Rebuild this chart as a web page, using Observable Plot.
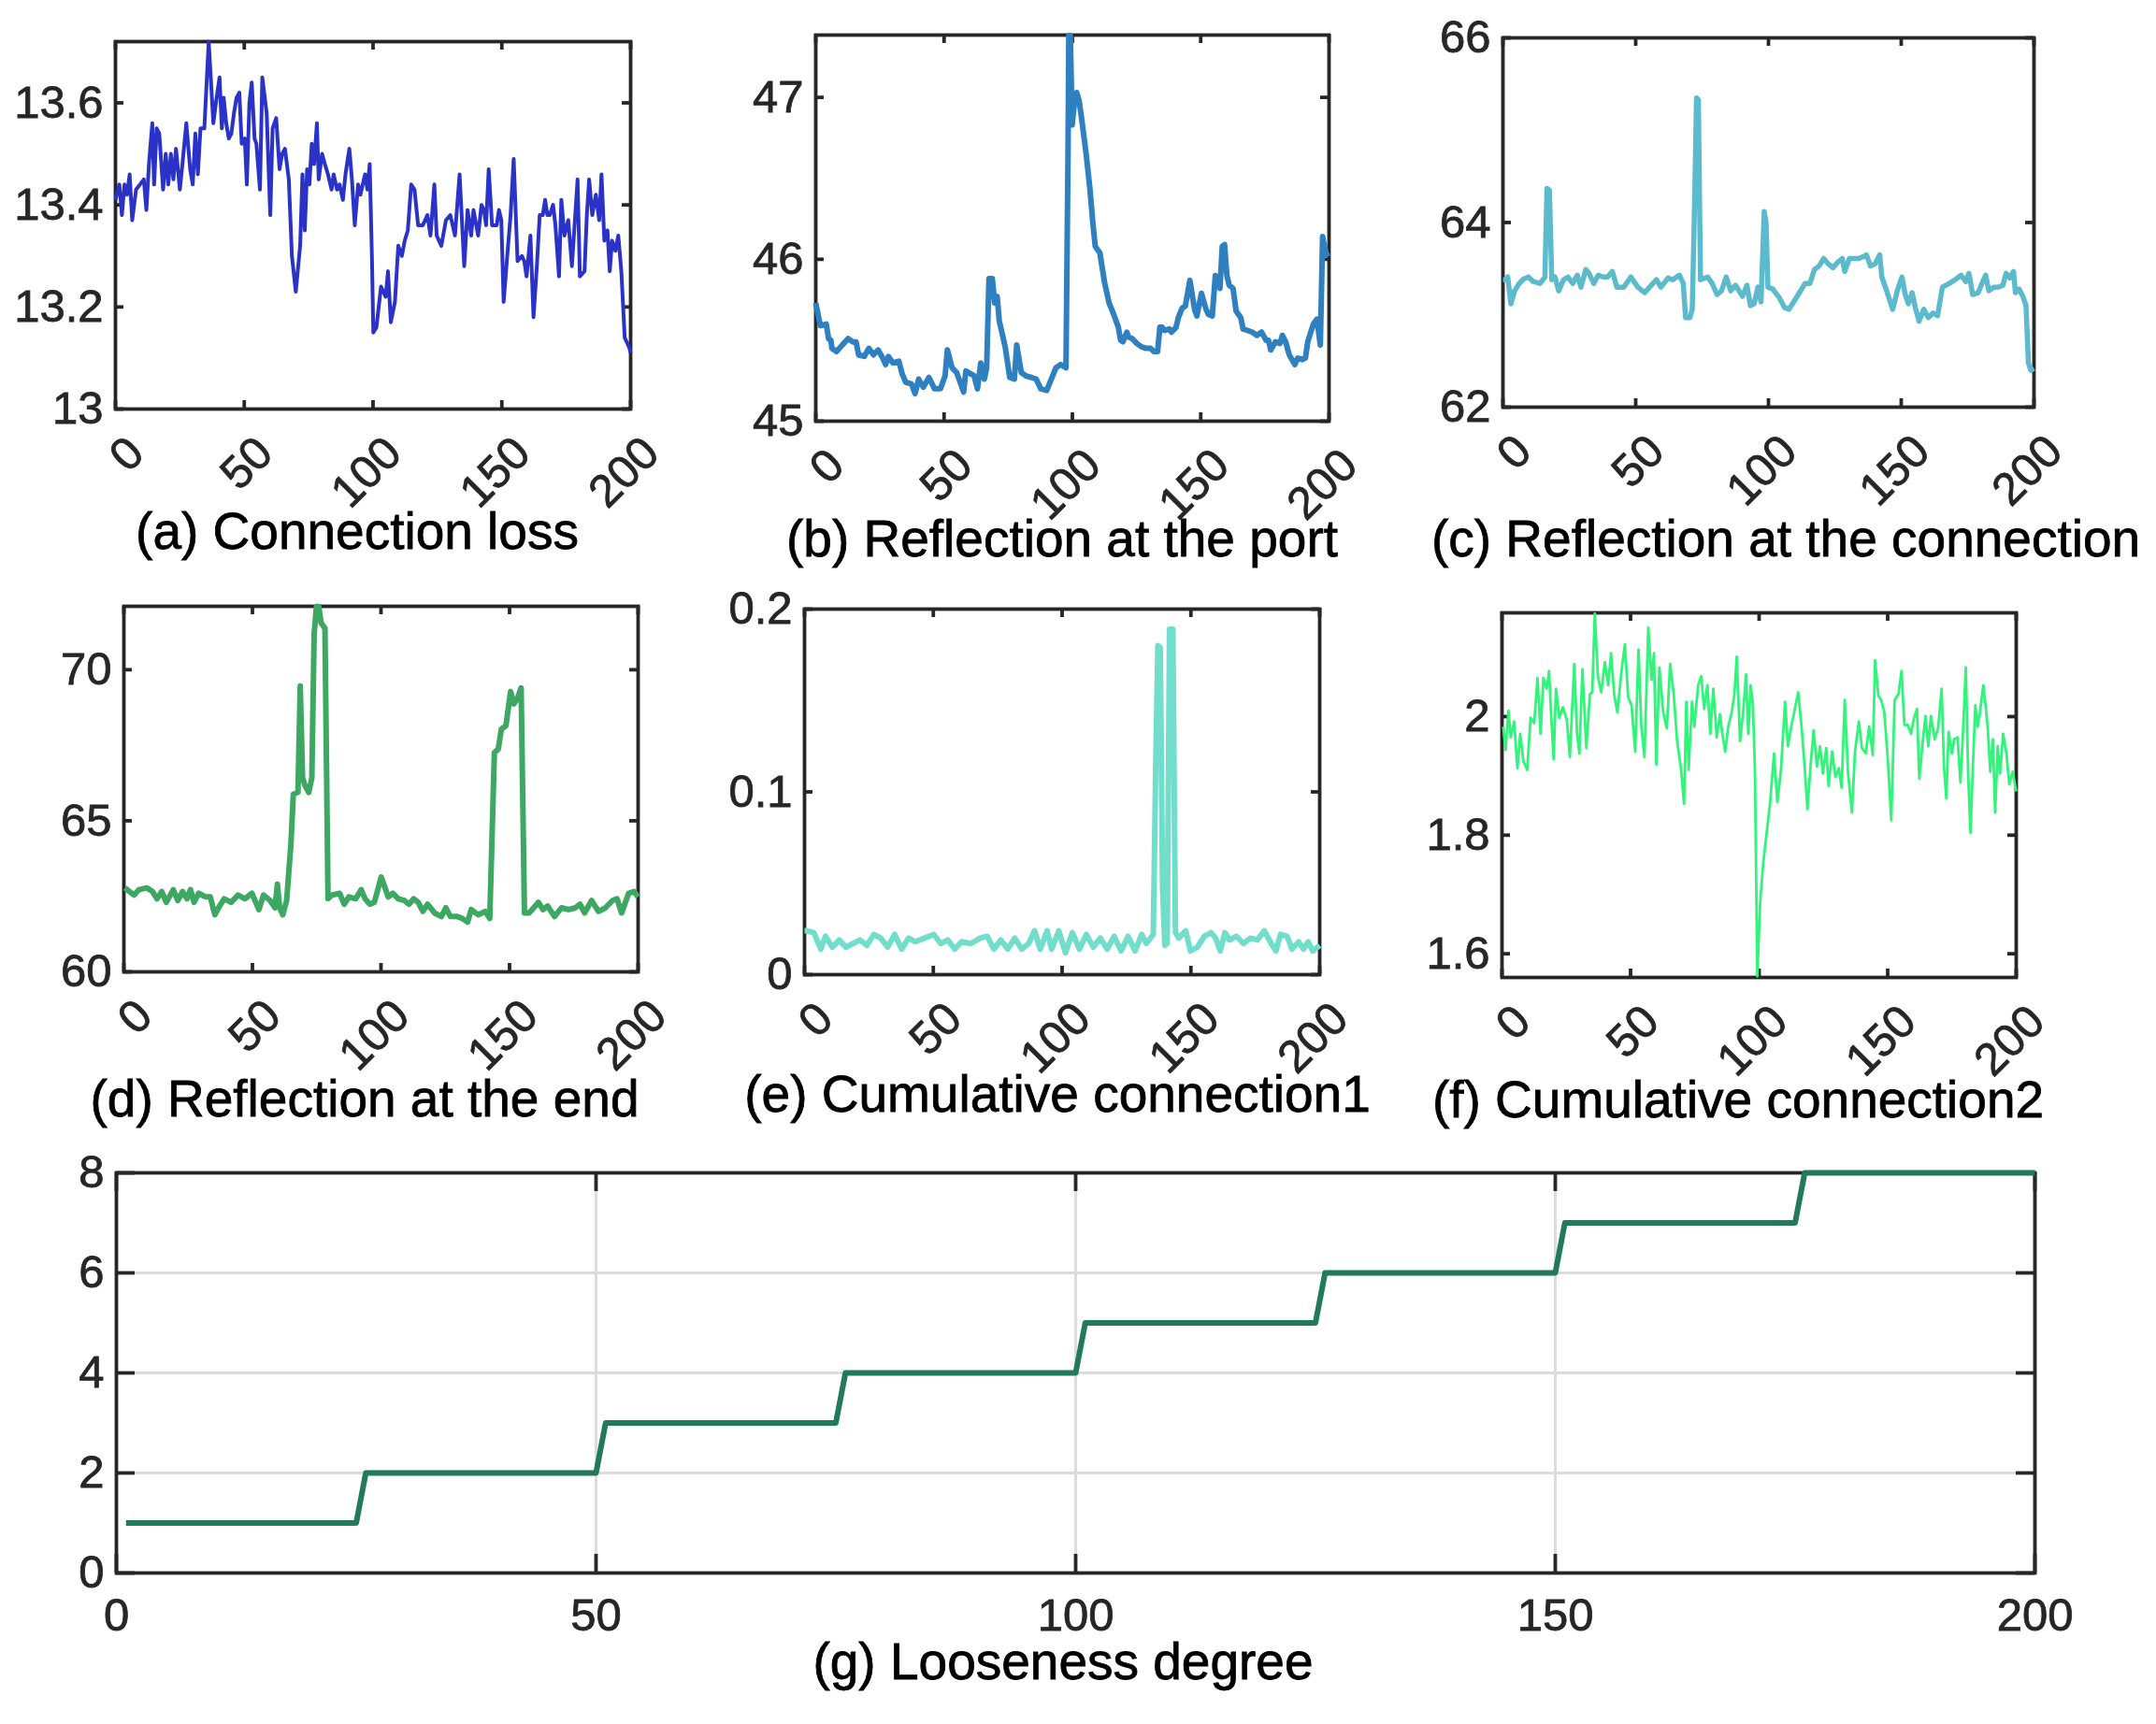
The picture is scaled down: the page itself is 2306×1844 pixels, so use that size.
<!DOCTYPE html>
<html><head><meta charset="utf-8">
<script src="https://cdn.jsdelivr.net/npm/d3@7"></script>
<script src="https://cdn.jsdelivr.net/npm/@observablehq/plot@0.6"></script>
<style>
body{margin:0;background:#fff;}
#root{position:relative;width:2306px;height:1844px;overflow:hidden;background:#fff;font-family:"Liberation Sans",Arial,sans-serif;}
.cap{position:absolute;display:inline-block;transform:translateX(-50%);font-size:55px;line-height:55px;color:#000;white-space:nowrap;font-family:"Liberation Sans",Arial,sans-serif;-webkit-text-stroke:0.8px #000;}
#root svg text{stroke:#262626;stroke-width:0.8px;}
</style></head><body><div id="root"></div>
<script>
// ---- data ----
const xTicks = [0, 50, 100, 150, 200];

const lossX = [0,1.5,2.5,3.5,4.5,5.5,6.5,8,9.5,11,12,13,14.3,15,16,17,18.5,19.5,20.5,21.5,22.5,23.5,25,26,27.5,29,30,31,32,33,34.5,36.2,37,38,39,40.4,41.3,42,43,44,45,46,47,48.1,49,50.2,51,52,52.9,54,54.7,56.1,57,58.7,60.1,61,62.4,63.7,64.7,65.8,67.3,68.5,70,71.7,72.6,73.5,74.4,75.3,76.2,77.1,78.2,78.9,80.2,81.3,82.5,83.9,84.7,86,87,88.3,89.3,90.8,91.8,92.9,94.2,95.1,96.9,97.8,98.7,99.6,100.1,101.3,103.1,104.9,105.8,106.9,108.5,109.8,111.2,112.3,113.5,114.8,116.1,117.5,119.3,121.1,122.3,123.8,124.7,126.5,128.3,130,131.8,133.6,135.4,136.7,138.1,139,140.8,142.1,143.1,143.9,144.9,146.2,148,148.9,149.8,150.7,152.1,153.4,154.6,156.1,157.8,158.7,159.6,161.1,162.3,163.6,164.7,165.9,166.8,167.7,168.6,169.9,170.8,172.2,173.1,174.3,175.8,177.2,178.5,179.4,180.3,182.1,183,183.9,185.1,186.5,187.8,188.7,189.8,191,191.9,192.8,194.1,195.2,196.4,197.7,199.5,200];
const lossY = [13.41,13.44,13.38,13.44,13.42,13.46,13.37,13.43,13.44,13.45,13.39,13.48,13.56,13.44,13.55,13.54,13.43,13.50,13.44,13.50,13.45,13.51,13.43,13.48,13.56,13.47,13.44,13.54,13.46,13.55,13.55,13.72,13.65,13.56,13.60,13.65,13.55,13.61,13.56,13.53,13.54,13.58,13.61,13.62,13.52,13.53,13.44,13.60,13.64,13.53,13.52,13.43,13.65,13.58,13.38,13.55,13.57,13.47,13.50,13.51,13.45,13.30,13.23,13.32,13.46,13.35,13.47,13.44,13.52,13.48,13.56,13.45,13.50,13.48,13.46,13.43,13.46,13.43,13.44,13.41,13.46,13.51,13.45,13.36,13.44,13.42,13.46,13.43,13.48,13.29,13.15,13.16,13.24,13.22,13.27,13.17,13.21,13.32,13.30,13.33,13.35,13.44,13.43,13.36,13.36,13.38,13.34,13.44,13.34,13.32,13.37,13.38,13.34,13.46,13.28,13.39,13.34,13.39,13.34,13.40,13.39,13.36,13.47,13.36,13.36,13.39,13.37,13.21,13.30,13.38,13.49,13.29,13.30,13.29,13.26,13.34,13.18,13.28,13.38,13.38,13.41,13.38,13.38,13.40,13.36,13.26,13.41,13.34,13.37,13.28,13.38,13.45,13.26,13.27,13.38,13.45,13.38,13.42,13.37,13.46,13.33,13.35,13.27,13.33,13.31,13.34,13.27,13.14,13.12,13.11];

const portX = [0,1.8,4.1,5,5.9,6.3,8.1,10.3,12.6,14.4,15.7,16.7,18.9,20.7,22.5,24.3,26.1,27.2,28.3,30.1,32.4,33.7,35.1,37.3,38.7,40.1,41.9,44.1,46.3,48.6,50.4,51.3,53.1,54.9,56.3,57.6,58.5,60.7,61.7,63,64.3,65.7,66.6,67.5,68.8,69.7,70.7,71.5,73.8,75.6,77.4,78.3,80.1,81.9,84.1,85.9,87.7,90,91.8,93.6,95.4,97.5,98.3,98.6,99.2,99.9,100.8,101.7,102.6,103.5,105.3,106.8,108,108.9,110.7,112.5,114.3,116.1,117.9,118.8,119.7,121.2,121.9,123.3,125.1,126.9,128.7,130.5,131.8,133.2,134.1,135,135.9,137.7,138.6,140.4,141.3,142.8,144,145.8,147.6,148.5,150.3,152.1,153,154.5,155.7,156.6,157.5,158.4,159.3,160.2,161.1,162.6,163.8,165.6,166.5,168.3,170.1,171.9,173.7,175.5,176.4,177.3,179.1,180.9,181.8,183.1,184.5,186.7,187.8,189.6,190.8,191.7,193.9,195.3,196.6,197.5,198.9,200];
const portY = [45.73,45.59,45.60,45.51,45.50,45.45,45.43,45.47,45.51,45.49,45.49,45.41,45.40,45.45,45.41,45.44,45.39,45.35,45.40,45.36,45.37,45.29,45.24,45.23,45.17,45.26,45.21,45.27,45.20,45.20,45.28,45.44,45.33,45.30,45.24,45.18,45.31,45.29,45.28,45.20,45.36,45.26,45.33,45.88,45.88,45.73,45.77,45.62,45.46,45.27,45.26,45.47,45.30,45.28,45.27,45.26,45.20,45.19,45.26,45.33,45.35,45.33,46.66,47.38,47.38,46.83,46.97,47.03,46.98,46.88,46.66,46.44,46.22,46.08,46.04,45.86,45.73,45.66,45.58,45.50,45.49,45.55,45.52,45.51,45.48,45.46,45.45,45.45,45.43,45.43,45.58,45.58,45.56,45.57,45.55,45.58,45.64,45.70,45.71,45.87,45.69,45.65,45.79,45.69,45.66,45.65,45.90,45.88,45.82,46.08,46.09,45.90,45.84,45.82,45.68,45.64,45.57,45.56,45.55,45.53,45.55,45.50,45.50,45.44,45.49,45.48,45.53,45.49,45.41,45.35,45.39,45.38,45.39,45.49,45.60,45.63,45.47,46.14,46.03,46.04];

const connX = [0,0.9,1.8,3,4.4,6.1,7.9,9.6,11.4,14,15.8,16.6,17.5,18.4,19.6,21,22.8,24.5,26.3,28,29.4,31.2,32.4,34.2,35.9,37.7,39.4,41.2,42.9,45.5,48.2,50.8,53.4,55.2,57.8,59.5,62.2,63.9,66.5,67.9,68.8,70.4,71.3,72.2,72.9,73.6,74.4,77.1,78.8,80.6,82.3,84.1,85.8,87.6,90.2,91.9,93.2,94.6,96,97.2,98.4,99.1,99.8,101.6,104.2,106,107.7,109.5,112.1,113.8,115.6,117.3,119.1,120.8,122.6,124.3,126.1,127.8,128.7,130.5,132.2,134,135.7,136.9,138.4,140.1,141.9,142.7,144.5,146.8,148.5,150.3,151.5,152.7,154.1,155.3,156.7,158.5,160.2,162,163.7,165.5,168.1,170.8,172.5,174.3,175.5,176.9,179,180.4,181.8,183,184.8,186.5,188.3,189.5,190.9,192.3,193,194.4,195.8,197,197.9,198.8,200];
const connY = [63.38,63.38,63.41,63.12,63.26,63.34,63.39,63.41,63.36,63.34,63.41,64.37,64.35,63.38,63.41,63.26,63.38,63.41,63.34,63.43,63.30,63.49,63.45,63.34,63.43,63.41,63.41,63.47,63.30,63.30,63.41,63.30,63.24,63.30,63.38,63.30,63.40,63.38,63.43,63.34,62.97,62.97,63.06,64.23,65.35,65.33,63.38,63.41,63.34,63.22,63.26,63.41,63.26,63.32,63.20,63.32,63.10,63.12,63.30,63.14,64.12,64.00,63.30,63.28,63.18,63.08,63.06,63.14,63.26,63.34,63.34,63.49,63.53,63.61,63.55,63.51,63.57,63.61,63.47,63.61,63.61,63.61,63.63,63.65,63.53,63.55,63.65,63.41,63.26,63.06,63.26,63.41,63.22,63.12,63.24,63.08,62.93,63.06,62.97,63.02,62.99,63.30,63.34,63.39,63.43,63.36,63.45,63.22,63.24,63.34,63.43,63.26,63.30,63.30,63.32,63.45,63.40,63.47,63.24,63.28,63.20,63.10,62.48,62.40,62.42];

const endX = [0.4,2.2,4,5.8,9,11.1,12.9,14.7,16.5,19.2,21,22.8,24.6,25.9,27.3,29.1,31.8,33.6,35.4,37.2,39,41.7,44.4,47.1,49.8,52.5,54.3,56.9,58.8,59.7,60.6,61.8,63.3,65,65.9,67.7,68.6,69.5,70.4,71.9,73.1,74,74.9,75.8,76.7,78.2,79.4,80.9,83.9,85.7,87.5,90.2,92.3,93.8,95.6,97.4,100.1,102.8,104.6,106.7,109.1,110.9,112.7,114.5,116.3,118.1,120.8,123.5,125.2,127,129.7,131.5,133.7,135.1,137.8,140.5,142.3,144.1,145.6,146.8,148.6,150.4,151.7,153.1,154.5,155.8,157.6,159.4,161.2,163,164.8,167.5,170.2,172.9,175.6,177.4,179.2,181.9,184.6,187.3,190,191.8,193.6,196.3,198.4,200];
const endY = [62.78,62.66,62.54,62.72,62.78,62.66,62.42,62.66,62.30,62.72,62.36,62.66,62.42,62.72,62.30,62.60,62.48,62.48,61.89,62.18,62.42,62.30,62.54,62.42,62.60,62.06,62.54,62.36,62.12,62.90,62.12,61.89,62.36,64.27,65.88,65.94,69.46,66.42,66.18,65.94,66.42,71.19,72.09,72.09,71.55,71.37,62.42,62.54,62.60,62.24,62.48,62.42,62.72,62.42,62.24,62.30,63.14,62.48,62.60,62.42,62.36,62.24,62.42,62.30,62.00,62.24,61.95,61.83,62.12,61.83,61.83,61.77,61.65,62.06,61.89,62.00,61.77,67.26,67.37,68.03,68.15,69.28,68.87,69.05,69.40,61.95,61.95,62.12,62.30,62.06,62.18,61.83,62.12,62.06,62.12,62.24,61.95,62.36,62.00,62.12,62.36,62.42,61.95,62.60,62.66,62.48];

const cum1X = [0,0.9,3.6,6.3,8.1,10.8,13.5,16.1,18.8,21.5,24.2,26.9,29.6,32.3,35,37.7,40.4,43,46.6,50.2,52.9,55.6,58.3,61,64.6,68.2,70.9,73.5,76.2,78.9,81.6,84.3,87,89.3,91.5,94.2,95.9,98.7,101.3,104,106.7,109.4,112.1,114.8,117.5,120.2,122.9,125.6,128.3,130.9,132.7,135.4,136.3,137.2,138.1,139,139.9,140.8,141.7,143,144,145.3,148,149.8,152.5,155.2,157.8,159.6,161.4,163.2,165,167.7,170.4,173.1,175.8,178.5,181.2,183,184.8,187.4,189.2,191.9,193.7,195.5,197.3,200];
const cum1Y = [0.024,0.024,0.023,0.014,0.021,0.015,0.019,0.015,0.017,0.019,0.016,0.022,0.020,0.015,0.022,0.014,0.020,0.018,0.020,0.022,0.017,0.019,0.014,0.018,0.017,0.020,0.021,0.014,0.019,0.014,0.020,0.014,0.017,0.024,0.014,0.024,0.014,0.024,0.012,0.023,0.014,0.022,0.015,0.020,0.014,0.021,0.013,0.021,0.013,0.022,0.017,0.022,0.111,0.180,0.179,0.048,0.016,0.017,0.189,0.189,0.023,0.020,0.024,0.013,0.015,0.021,0.023,0.020,0.013,0.023,0.019,0.021,0.017,0.020,0.019,0.024,0.017,0.013,0.022,0.021,0.014,0.018,0.014,0.018,0.013,0.016];

const cum2X = [0.5,1.4,2.5,3.4,4.7,6,7.1,8.3,9.8,11.1,12.5,13.8,15,16.1,17.4,18.3,19.2,20.1,21,22.3,23.7,25.2,26.4,28.1,29.2,30.1,31.3,32.8,34.2,35.1,36.1,37.3,38.6,40,41.3,42.4,43.7,44.9,46.4,47.8,49.1,50.4,51.8,53.1,54.2,55.4,56.9,58.2,59.1,60,61.2,62.7,64.1,65.4,66.8,68.1,69.6,70.8,71.7,72.6,73.9,74.8,76.3,77.5,78.6,79.9,81,82.2,83.5,84.8,85.7,86.8,88,89.3,90.4,91.3,92.6,93.8,94.9,95.8,96.7,97.6,98.4,99.3,100.4,101.6,103.1,104.3,105.8,107.1,108.5,110.1,111.2,112.5,113.9,115.2,116.5,117.6,118.8,120.1,121.2,122.5,123.7,124.8,126.1,127,128.4,129.7,131,132.1,133.3,134.6,136.1,137.3,138.8,140,141.5,142.8,144.2,145.1,146.4,147.5,148.7,150,151.4,152.7,154.2,155.4,156.5,157.8,159.1,160.1,161.4,162.3,163.6,164.7,165.8,166.8,168.3,169.6,171,171.9,172.8,173.7,175,175.9,177.2,178.3,179.2,180.4,181.3,182.2,183.2,184.1,185,185.9,187.2,188,188.9,189.9,190.9,191.8,192.8,193.7,194.9,196.2,197.3,198.6,199.5,200];
const cum2Y = [1.983,1.944,2.010,1.965,1.992,1.913,1.971,1.925,1.910,1.998,1.989,2.065,1.971,2.065,2.047,2.077,1.995,1.928,2.047,1.998,2.016,1.995,1.932,2.089,1.971,1.938,2.080,1.947,2.038,2.041,2.174,2.068,2.041,2.092,2.053,2.107,2.035,2.007,2.074,2.122,2.032,2.019,1.941,2.113,1.983,1.932,2.150,2.062,2.107,1.919,2.083,2.007,1.980,2.089,2.038,1.959,1.913,1.853,2.025,1.910,2.025,1.983,2.053,2.068,2.013,2.053,1.971,2.047,1.965,2.004,1.971,1.941,1.983,2.007,2.038,2.101,1.959,2.007,2.071,1.971,2.053,2.019,1.904,1.562,1.686,1.753,1.810,1.856,1.938,1.856,1.910,2.025,1.950,1.983,2.013,2.041,1.983,1.922,1.844,1.922,1.977,1.916,1.950,1.904,1.947,1.883,1.941,1.898,1.913,1.880,2.028,1.904,1.838,1.941,1.992,1.947,1.938,1.983,1.935,2.095,2.035,2.028,2.007,1.932,1.825,2.028,2.038,2.077,1.986,1.986,1.971,1.995,2.013,1.895,1.956,2.001,1.950,2.001,1.962,1.980,2.047,1.916,1.862,1.974,1.938,1.962,1.965,1.889,1.965,2.083,1.904,1.804,1.922,2.019,1.983,2.007,2.053,2.022,1.983,1.907,1.962,1.838,1.950,1.904,1.971,1.938,1.886,1.907,1.886,1.874];

const looseX = [1,25,26,50,51,75,76,100,101,125,126,150,151,175,176,200];
const looseY = [1,1,2,2,3,3,4,4,5,5,6,6,7,7,8,8];

const captions = ["(a) Connection loss","(b) Reflection at the port","(c) Reflection at the connection","(d) Reflection at the end","(e) Cumulative connection1","(f) Cumulative connection2","(g) Looseness degree"];

// ---- drawing ----
const root = document.getElementById("root");
const AX = "#262626";
const FONT = "'Liberation Sans', Arial, Helvetica, sans-serif";
const FS = 49;

function panel(p) {
  const mL = 150, mR = 40, mT = 40, mB = 180;
  const fw = p.R - p.L, fh = p.B - p.T;
  const data = p.xs.map((x, i) => ({x, y: p.ys[i]}));
  const tl = p.tickLen;
  const marks = [];
  if (p.grid) {
    marks.push(Plot.gridX(p.xticks.slice(1, -1), {stroke: "#dcdcdc", strokeOpacity: 1, strokeWidth: 3}));
    marks.push(Plot.gridY(p.yticks.slice(1, -1), {stroke: "#dcdcdc", strokeOpacity: 1, strokeWidth: 3}));
  }
  marks.push(Plot.ruleX(p.xticks, {x: d => d, insetTop: fh - tl, stroke: AX, strokeWidth: 3.8}));
  marks.push(Plot.ruleX(p.xticks, {x: d => d, insetBottom: fh - tl, stroke: AX, strokeWidth: 3.8}));
  marks.push(Plot.ruleY(p.yticks, {y: d => d, insetRight: fw - tl, stroke: AX, strokeWidth: 3.8}));
  marks.push(Plot.ruleY(p.yticks, {y: d => d, insetLeft: fw - tl, stroke: AX, strokeWidth: 3.8}));
  marks.push(Plot.frame({stroke: AX, strokeWidth: 3.8}));
  marks.push(Plot.line(data, {x: "x", y: "y", stroke: p.color, strokeWidth: p.lw, strokeLinejoin: "round", strokeLinecap: "butt"}));
  marks.push(Plot.axisY(p.yticks, {anchor: "left", label: null, tickSize: 0, tickPadding: 13, color: AX, fontSize: FS, tickFormat: d => String(d)}));
  if (p.rotate) {
    marks.push(Plot.axisX(p.xticks, {anchor: "bottom", label: null, tickSize: 0, tickPadding: 39, tickRotate: -45, dx: 22,
      textAnchor: "end", lineAnchor: "middle", color: AX, fontSize: FS, tickFormat: d => String(d)}));
  } else {
    marks.push(Plot.axisX(p.xticks, {anchor: "bottom", label: null, tickSize: 0, tickPadding: 27, color: AX, fontSize: FS, tickFormat: d => String(d)}));
  }
  const svg = Plot.plot({
    width: fw + mL + mR, height: fh + mT + mB,
    marginLeft: mL, marginRight: mR, marginTop: mT, marginBottom: mB,
    x: {domain: [0, 200], axis: null, label: null},
    y: {domain: p.ydom, axis: null, label: null},
    style: {background: "transparent", overflow: "visible", fontFamily: FONT, fontSize: FS + "px"},
    marks
  });
  svg.style.position = "absolute";
  svg.style.left = (p.L - mL) + "px";
  svg.style.top = (p.T - mT) + "px";
  svg.style.maxWidth = "none";
  svg.style.background = "transparent";
  svg.style.overflow = "visible";
  root.appendChild(svg);

  const cap = document.createElement("div");
  cap.className = "cap";
  cap.textContent = p.caption;
  cap.style.left = p.cx + "px";
  cap.style.top = (p.base - 46.6) + "px";
  root.appendChild(cap);
}

panel({xs: lossX, ys: lossY, L: 123, R: 674, T: 44, B: 437, ydom: [13, 13.72], yticks: [13, 13.2, 13.4, 13.6], xticks: xTicks,
  color: "#2a32c8", lw: 4, tickLen: 9, rotate: true, caption: captions[0], cx: 382, base: 588});
panel({xs: portX, ys: portY, L: 872, R: 1421, T: 37, B: 450, ydom: [45, 47.385], yticks: [45, 46, 47], xticks: xTicks,
  color: "#2f80c0", lw: 6, tickLen: 9, rotate: true, caption: captions[1], cx: 1136, base: 596});
panel({xs: connX, ys: connY, L: 1607, R: 2175, T: 40, B: 435, ydom: [62, 66], yticks: [62, 64, 66], xticks: xTicks,
  color: "#5cbacd", lw: 5.5, tickLen: 9, rotate: true, caption: captions[2], cx: 1910, base: 596});
panel({xs: endX, ys: endY, L: 132, R: 682, T: 648, B: 1039, ydom: [60, 72.1], yticks: [60, 65, 70], xticks: xTicks,
  color: "#3da862", lw: 6, tickLen: 9, rotate: true, caption: captions[3], cx: 390, base: 1195});
panel({xs: cum1X, ys: cum1Y, L: 860, R: 1411, T: 651, B: 1042, ydom: [0, 0.2], yticks: [0, 0.1, 0.2], xticks: xTicks,
  color: "#71ddcb", lw: 6, tickLen: 9, rotate: true, caption: captions[4], cx: 1131, base: 1190});
panel({xs: cum2X, ys: cum2Y, L: 1606, R: 2156, T: 655, B: 1045, ydom: [1.56, 2.175], yticks: [1.6, 1.8, 2], xticks: xTicks,
  color: "#31f57a", lw: 2.8, tickLen: 9, rotate: true, caption: captions[5], cx: 1859, base: 1196});
panel({xs: looseX, ys: looseY, L: 124, R: 2176, T: 1254, B: 1682, ydom: [0, 8], yticks: [0, 2, 4, 6, 8], xticks: xTicks,
  color: "#217a5c", lw: 6, tickLen: 20, rotate: false, grid: true, caption: captions[6], cx: 1137, base: 1797});
</script>
</body></html>
